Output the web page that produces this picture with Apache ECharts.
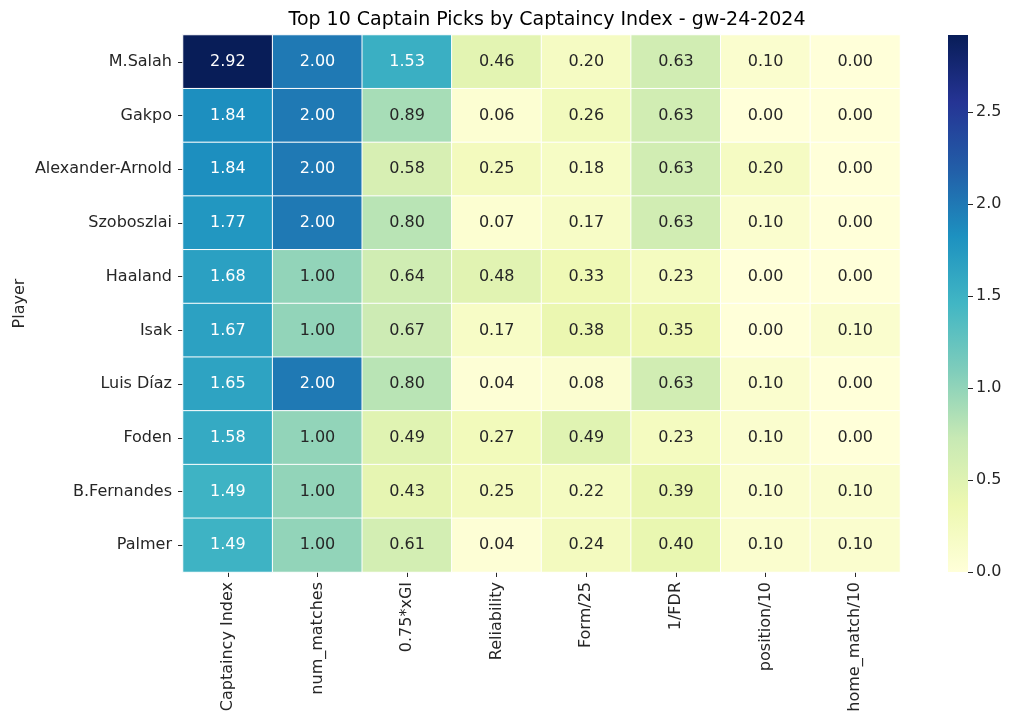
<!DOCTYPE html>
<html><head><meta charset="utf-8">
<script src="https://cdn.jsdelivr.net/npm/echarts@6/dist/echarts.min.js"></script>
<style>html,body{margin:0;padding:0;background:#fff}#c{width:1024px;height:726px}</style>
</head><body><div id="c"></div>
<script>
const players = ["M.Salah","Gakpo","Alexander-Arnold","Szoboszlai","Haaland","Isak","Luis Díaz","Foden","B.Fernandes","Palmer"];
const metrics = ["Captaincy Index","num_matches","0.75*xGI","Reliability","Form/25","1/FDR","position/10","home_match/10"];
const captaincyIndex = [2.92,1.84,1.84,1.77,1.68,1.67,1.65,1.58,1.49,1.49];
const numMatches = [2.00,2.00,2.00,2.00,1.00,1.00,2.00,1.00,1.00,1.00];
const xGI = [1.53,0.89,0.58,0.80,0.64,0.67,0.80,0.49,0.43,0.61];
const reliability = [0.46,0.06,0.25,0.07,0.48,0.17,0.04,0.27,0.25,0.04];
const form25 = [0.20,0.26,0.18,0.17,0.33,0.38,0.08,0.49,0.22,0.24];
const invFDR = [0.63,0.63,0.63,0.63,0.23,0.35,0.63,0.23,0.39,0.40];
const position10 = [0.10,0.00,0.20,0.10,0.00,0.00,0.10,0.10,0.10,0.10];
const homeMatch10 = [0.00,0.00,0.00,0.00,0.00,0.10,0.00,0.00,0.10,0.10];
const colorbarTicks = [0,0.5,1.0,1.5,2.0,2.5];

const columns = [captaincyIndex,numMatches,xGI,reliability,form25,invFDR,position10,homeMatch10];
const vmin = 0, vmax = Math.max(...captaincyIndex);
const palette = ['#ffffd9','#edf8b1','#c7e9b4','#7fcdbb','#41b6c4','#1d91c0','#225ea8','#253494','#081d58'];

const data = [];
columns.forEach((col, ci) => col.forEach((v, ri) => {
  data.push({value:[ci, ri, v], label:{color: v > 1.2 ? '#ffffff' : '#262626'}});
}));

const FONT = 'DejaVu Sans';
const chart = echarts.init(document.getElementById('c'));
chart.setOption({
  backgroundColor:'#fff',
  animation:false,
  textStyle:{fontFamily:FONT},
  title:{text:'Top 10 Captain Picks by Captaincy Index - gw-24-2024', left:542, textAlign:'center', top:6,
    textStyle:{fontFamily:FONT, fontSize:19, fontWeight:'normal', color:'#000'}},
  grid:[
    {left:183, right:124, top:35, bottom:154},
    {left:948, width:20, top:35, bottom:154}
  ],
  xAxis:[
    {type:'category', data:metrics, gridIndex:0, position:'bottom',
     axisLine:{show:false}, axisTick:{show:true, alignWithLabel:true, length:5, lineStyle:{color:'#262626'}},
     axisLabel:{rotate:90, fontSize:16, color:'#262626', margin:10, interval:0}, splitLine:{show:false}},
    {type:'category', data:['cb'], gridIndex:1, show:false}
  ],
  yAxis:[
    {type:'category', data:players, gridIndex:0, inverse:true,
     axisLine:{show:false}, axisTick:{show:true, alignWithLabel:true, length:5, lineStyle:{color:'#262626'}},
     axisLabel:{fontSize:16, color:'#262626', margin:11, interval:0},
     name:'Player', nameLocation:'middle', nameGap:155, nameRotate:90, nameMoveOverlap:false,
     nameTextStyle:{fontSize:16, color:'#262626'}},
    {type:'value', gridIndex:1, min:vmin, max:vmax, position:'right',
     axisLine:{show:false}, splitLine:{show:false},
     axisTick:{show:true, length:5, customValues:colorbarTicks, lineStyle:{color:'#262626'}},
     axisLabel:{fontSize:16, color:'#262626', margin:8, customValues:colorbarTicks, formatter:v=>v.toFixed(1)}}
  ],
  visualMap:{show:false, min:vmin, max:vmax, seriesIndex:0, dimension:2, inRange:{color:palette}},
  series:[
    {type:'heatmap', xAxisIndex:0, yAxisIndex:0, data:data,
     itemStyle:{borderColor:'#ffffff', borderWidth:1},
     label:{show:true, fontSize:16, fontFamily:FONT, formatter:p=>p.value[2].toFixed(2)},
     emphasis:{disabled:true}},
    {type:'bar', xAxisIndex:1, yAxisIndex:1, data:[vmax], barWidth:'100%',
     itemStyle:{color:new echarts.graphic.LinearGradient(0,1,0,0, palette.map((c,i)=>({offset:i/(palette.length-1), color:c})))},
     silent:true}
  ]
});
</script></body></html>
